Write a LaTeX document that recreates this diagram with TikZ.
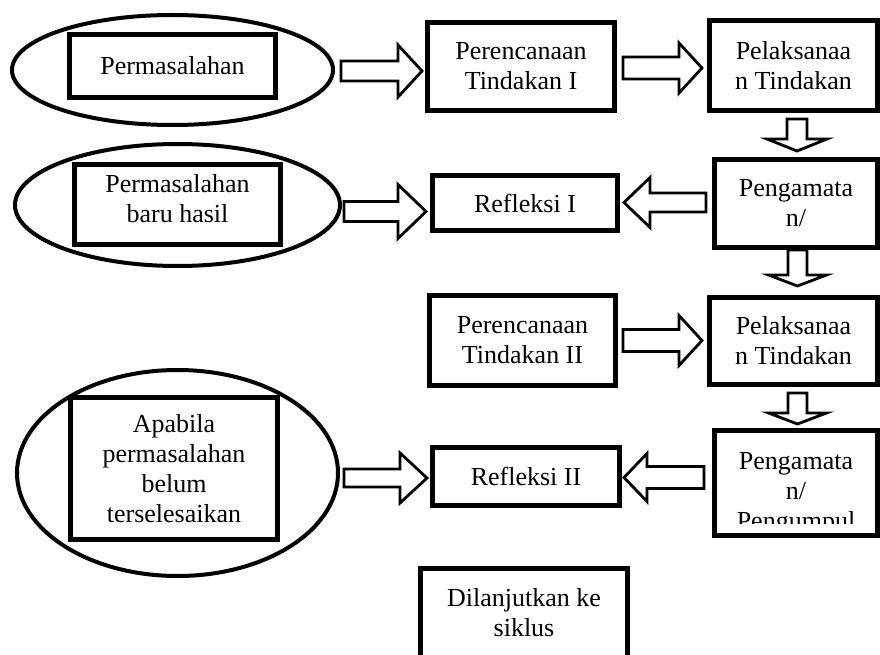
\documentclass[tikz,border=0pt]{standalone}
\usepackage{fontspec}
\setmainfont{Liberation Serif}
\usetikzlibrary{shapes.geometric}
\tikzset{
  box/.style={draw, line width=5pt, rectangle, inner sep=0pt, align=center, font=\fontsize{26}{30}\selectfont},
  oval/.style={draw, line width=4pt, ellipse, inner sep=0pt},
  barrow/.style={draw, fill=white, line width=2.8pt, line join=miter, miter limit=10},
  txt/.style={inner sep=0pt, align=center, font=\fontsize{26}{30}\selectfont},
}
% #1 tail coordinate, #2 rotation, #3 length, #4 shaft half width, #5 head half width, #6 head length
\newcommand\blockarr[6]{%
  \draw[barrow, shift={(#1)}, rotate=#2] (0,-#4) -- (#3-#6,-#4) -- (#3-#6,-#5) -- (#3,0) -- (#3-#6,#5) -- (#3-#6,#4) -- (0,#4) -- cycle;}
\begin{document}
\begin{tikzpicture}[x=1pt,y=-1pt]
\useasboundingbox (0,0) rectangle (880,655);
\fill[white] (0,0) rectangle (880,655);
\clip (0,0) rectangle (880,655);

% left column: ellipses with boxes
\node[oval, minimum width=321pt, minimum height=110pt] (e1) at (172.5,70) {};
\node[box, minimum width=206pt, minimum height=63pt] (q1) at (172.5,66) {Permasalahan};
\node[oval, minimum width=325pt, minimum height=122pt] (e2) at (177.5,205) {};
\node[box, minimum width=206pt, minimum height=80pt] (q2) at (177.5,204.5) {};
\node[txt] (q2t) at (177.5,199) {Permasalahan\\baru hasil};
\node[oval, minimum width=321pt, minimum height=206pt] (e3) at (177.5,473) {};
\node[box, minimum width=207pt, minimum height=142pt] (q3) at (174,468.5) {Apabila\\permasalahan\\belum\\terselesaikan};

% middle column
\node[box, minimum width=187pt, minimum height=88pt] (r1) at (521,66.5) {Perencanaan\\Tindakan I};
\node[box, minimum width=185pt, minimum height=55pt] (f1) at (525,203) {Refleksi I};
\node[box, minimum width=186pt, minimum height=90pt] (r2) at (522.5,340.5) {Perencanaan\\Tindakan II};
\node[box, minimum width=187pt, minimum height=58pt] (f2) at (526,476.5) {Refleksi II};
\node[box, minimum width=207pt, minimum height=150pt] (dil) at (524,643.5) {};
\node[txt] (dilt) at (524,612.5) {Dilanjutkan ke\\siklus};

% right column
\node[box, minimum width=168pt, minimum height=90pt] (p1) at (793.5,65.5) {Pelaksanaa\\n Tindakan};
\node[box, minimum width=163pt, minimum height=88pt] (g1) at (796,203.5) {Pengamata\\n/};
\node[box, minimum width=168pt, minimum height=87pt] (p2) at (793.5,341) {Pelaksanaa\\n Tindakan};
\node[box, minimum width=163pt, minimum height=105pt] (g2) at (796,483) {};
\begin{scope}
  \clip (714,430) rectangle (878,523);
  \node[txt] (g2t) at (796,493.4) {Pengamata\\n/\\Pengumpul};
\end{scope}

% block arrows
\coordinate (a1) at (341,71);
\coordinate (a2) at (623,68);
\coordinate (d1) at (797,119);
\coordinate (l1) at (706,202.5);
\coordinate (a3) at (344,211.5);
\coordinate (d2) at (797.5,250);
\coordinate (a4) at (623,340.5);
\coordinate (d3) at (797.5,393);
\coordinate (l2) at (704,477.5);
\coordinate (a5) at (344,478);

\blockarr{a1}{0}{81}{10}{26}{24}
\blockarr{a2}{0}{79}{11}{25}{23}
\blockarr{d1}{-90}{32}{10}{30}{12}
\blockarr{l1}{180}{82}{9.5}{25}{26}
\blockarr{a3}{0}{82}{10}{27}{28}
\blockarr{d2}{-90}{36}{9.5}{29}{11}
\blockarr{a4}{0}{79}{11}{25}{23}
\blockarr{d3}{-90}{31}{9.5}{29}{11}
\blockarr{l2}{180}{80}{11}{24}{23}
\blockarr{a5}{0}{83}{9}{25}{27}
\end{tikzpicture}
\end{document}
